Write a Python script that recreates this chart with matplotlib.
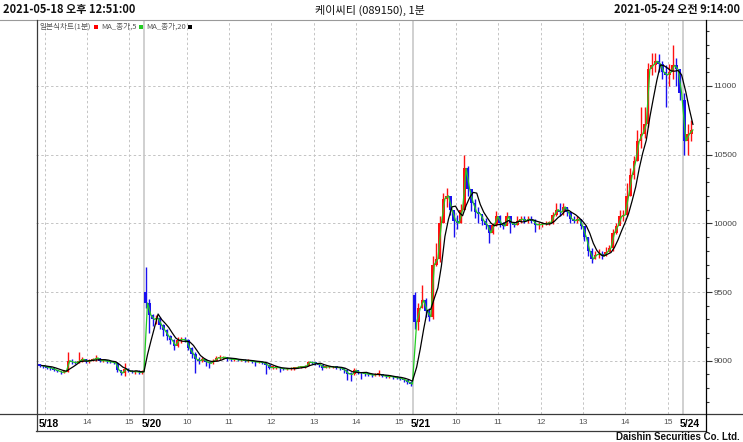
import numpy as np
import pandas as pd
import matplotlib
matplotlib.use("Agg")
import matplotlib.pyplot as plt
import matplotlib.transforms as mtransforms
from matplotlib.lines import Line2D
from matplotlib.patches import Rectangle

# ---------------- data (5-minute bars) ----------------
day_labels = ["5/18", "5/20", "5/21", "5/24"]
first_bar_time = ["12:51", "09:00", "09:00", "09:00"]
session_close = "15:20"
day_open = [8970, 9500, 9480, 10900]

close_0518 = [8965, 8960, 8950, 8945, 8935, 8925, 8915, 8920, 9000, 8990,
              8985, 9000, 9010, 8995, 9000, 9010, 9020, 9000, 9000, 8995,
              8990, 8985, 8930, 8910, 8940, 8925, 8920, 8920, 8915, 8920]
high_0518 = [8975, 8970, 8965, 8955, 8945, 8935, 8925, 8930, 9060, 9010,
             9000, 9065, 9030, 9015, 9010, 9020, 9040, 9020, 9010, 9005,
             9000, 8995, 8990, 8930, 8980, 8945, 8935, 8935, 8930, 8930]
low_0518 = [8955, 8950, 8940, 8935, 8925, 8915, 8905, 8910, 8915, 8975,
            8975, 8980, 8990, 8985, 8985, 8995, 9000, 8990, 8990, 8985,
            8980, 8975, 8920, 8895, 8885, 8915, 8910, 8905, 8900, 8905]

close_0520 = [9420, 9330, 9300, 9310, 9260, 9220, 9180, 9150, 9110, 9150,
              9155, 9150, 9090, 9050, 9010, 9000, 9010, 8990, 8980, 9000,
              9020, 9020, 9025, 9015, 9010, 9010, 9005, 9005, 9000, 9000,
              8995, 8990, 8990, 8985, 8970, 8950, 8950, 8950, 8945, 8940,
              8940, 8945, 8945, 8955, 8955, 8960, 8990, 8985, 8980, 8970,
              8950, 8955, 8955, 8955, 8950, 8945, 8930, 8905, 8900, 8930,
              8915, 8910, 8905, 8900, 8895, 8900, 8900, 8890, 8885, 8885,
              8880, 8875, 8870, 8860, 8845, 8830]
high_0520 = [9680, 9450, 9340, 9330, 9320, 9270, 9230, 9190, 9160, 9170,
             9175, 9175, 9160, 9100, 9060, 9030, 9030, 9010, 9000, 9010,
             9035, 9040, 9035, 9030, 9020, 9020, 9015, 9015, 9010, 9010,
             9005, 9000, 9000, 8995, 8990, 8975, 8960, 8960, 8955, 8950,
             8950, 8955, 8955, 8965, 8965, 8970, 9000, 8995, 8990, 8985,
             8970, 8965, 8965, 8965, 8960, 8955, 8950, 8935, 8915, 8945,
             8935, 8920, 8915, 8910, 8905, 8910, 8930, 8905, 8895, 8895,
             8890, 8885, 8880, 8875, 8860, 8850]
low_0520 = [9380, 9200, 9250, 9270, 9230, 9180, 9150, 9120, 9080, 9100,
            9130, 9135, 9080, 9020, 8910, 8975, 8990, 8965, 8950, 8975,
            8995, 9005, 9010, 9000, 9000, 9000, 8995, 8995, 8990, 8990,
            8985, 8960, 8980, 8975, 8900, 8940, 8940, 8940, 8920, 8930,
            8930, 8935, 8935, 8945, 8945, 8950, 8960, 8975, 8970, 8955,
            8935, 8945, 8945, 8945, 8940, 8935, 8910, 8860, 8850, 8895,
            8900, 8870, 8890, 8885, 8880, 8890, 8890, 8880, 8875, 8875,
            8870, 8865, 8860, 8845, 8830, 8815]

close_0521 = [9280, 9380, 9440, 9360, 9320, 9700, 9740, 10000, 10180, 10200,
              10100, 10020, 10000, 10100, 10400, 10250, 10150, 10080, 10070, 10020,
              9990, 9930, 9990, 10050, 10000, 9980, 10050, 10000, 9990, 10020,
              10030, 10020, 10030, 10020, 9990, 9990, 9995, 10000, 10005, 10060,
              10100, 10080, 10120, 10080, 10030, 10020, 10030, 9980, 9900, 9800,
              9740, 9770, 9780, 9760, 9790, 9820, 9930, 9980, 10050, 10060,
              10200, 10350, 10450, 10600, 10650, 10720, 11120, 11150, 11180, 11160,
              11100, 11080, 11100, 11150, 11120, 10950]
high_0521 = [9500, 9420, 9550, 9460, 9380, 9760, 9860, 10050, 10220, 10260,
             10200, 10080, 10060, 10140, 10500, 10420, 10230, 10180, 10120, 10060,
             10040, 9990, 10000, 10090, 10060, 10010, 10080, 10050, 10010, 10050,
             10050, 10050, 10050, 10050, 10030, 10010, 10010, 10020, 10020, 10080,
             10150, 10150, 10150, 10120, 10060, 10050, 10050, 10030, 9980, 9900,
             9820, 9800, 9810, 9800, 9830, 9840, 9960, 10000, 10100, 10100,
             10290, 10400, 10490, 10680, 10850, 10850, 11170, 11240, 11240, 11230,
             11180, 11150, 11160, 11300, 11200, 11100]
low_0521 = [9230, 9220, 9380, 9320, 9290, 9300, 9690, 9720, 10000, 10120,
            10060, 9900, 9960, 10000, 10100, 10200, 10090, 10040, 10000, 9990,
            9960, 9860, 9920, 9980, 9970, 9960, 9990, 9930, 9970, 9990,
            10000, 10000, 10000, 10000, 9940, 9960, 9975, 9985, 9990, 9995,
            10050, 10050, 10060, 10050, 10000, 10000, 10000, 9960, 9870, 9760,
            9710, 9740, 9750, 9740, 9760, 9790, 9800, 9920, 10000, 10020,
            10050, 10200, 10320, 10450, 10550, 10620, 10700, 11080, 11100, 11100,
            11050, 10850, 11000, 11050, 11000, 10900]

close_0524 = [10600, 10650, 10680]
high_0524 = [10950, 10720, 10750]
low_0524 = [10500, 10500, 10600]

closes = [close_0518, close_0520, close_0521, close_0524]
highs = [high_0518, high_0520, high_0521, high_0524]
lows = [low_0518, low_0520, low_0521, low_0524]

ma_windows_min = [5, 20]
ma_colors = ["#22cc22", "#000000"]
BAR_MIN = 5

y_ticks = [9000, 9500, 10000, 10500, 11000]
hours = [9, 10, 11, 12, 13, 14, 15]

# ---------------- build the time axis (trading minutes) ----------------
def to_min(s):
    h, m = s.split(":")
    return int(h) * 60 + int(m)

rows = []
offset = 0
for d in range(len(day_labels)):
    start = to_min(first_bar_time[d])
    c = closes[d]
    o = [day_open[d]] + c[:-1]
    for i in range(len(c)):
        rows.append(dict(t=offset + i * BAR_MIN, o=o[i], h=highs[d][i],
                         l=lows[d][i], c=c[i]))
    offset += to_min(session_close) - start + 1
df = pd.DataFrame(rows)

# position of each day's 09:00 on the trading-minute axis
day_nine = [-(to_min(first_bar_time[0]) - to_min("09:00"))]
off = 0
for d in range(len(day_labels)):
    if d > 0:
        day_nine.append(off)
    off += to_min(session_close) - to_min(first_bar_time[d]) + 1

# ---------------- figure ----------------
W, H = 743, 442
fig = plt.figure(figsize=(W / 100, H / 100), dpi=100)
fig.patch.set_facecolor("white")

def fx(x):
    return x / W

def fy(y):
    return 1 - y / H

ax_l, ax_r, ax_t, ax_b = 36, 706, 20, 414
ax = fig.add_axes([fx(ax_l), fy(ax_b), (ax_r - ax_l) / W, (ax_b - ax_t) / H])
ax.set_xlim(-3.3, 945)
ax.set_ylim(8612, 11480)
for s in ax.spines.values():
    s.set_visible(False)

# grid lines
grid_col = "#c4c4c4"
for yv in y_ticks:
    ax.axhline(yv, color=grid_col, lw=0.7, ls=(0, (2.5, 2.5)), zorder=0)
for d in range(len(day_labels)):
    base = day_nine[d]
    for hh in hours:
        tt = base + (hh - 9) * 60
        if tt <= 0 and d == 0:
            continue
        if d == 3 and hh > 9:
            continue
        if hh == 9:
            if d > 0:
                ax.axvline(tt, color="#c8c8c8", lw=1.2, zorder=0)
        else:
            ax.axvline(tt, color=grid_col, lw=0.7, ls=(0, (2.5, 2.5)), zorder=0)

# candles
up = df["c"] >= df["o"]
xc = df["t"] + 2.0
for mask, col in [(up, "#ff1010"), (~up, "#1a10f0")]:
    sub = df[mask]
    ax.vlines(xc[mask], sub["l"], sub["h"], color=col, lw=1.0, zorder=2)
    bottom = np.minimum(sub["o"], sub["c"])
    height = np.maximum(np.abs(sub["c"] - sub["o"]), 8)
    ax.bar(xc[mask], height, bottom=bottom, width=4.0, color=col,
           edgecolor="none", zorder=2)

# moving averages (window in minutes -> number of 5-minute bars)
xe = df["t"] + 4.5
for w, col in zip(ma_windows_min, ma_colors):
    ma = df["c"].rolling(max(1, w // BAR_MIN), min_periods=1).mean()
    ax.plot(xe, ma, color=col, lw=0.9, zorder=3)

# right y axis
ax.yaxis.tick_right()
ax.set_yticks(y_ticks)
ax.set_yticklabels([str(v) for v in y_ticks])
ax.set_yticks(np.arange(8700, 11500, 100), minor=True)
ax.tick_params(axis="y", which="major", length=4, width=0.8, pad=1.5,
               labelsize=6, labelcolor="#444444", color="#333333")
ax.tick_params(axis="y", which="minor", length=2.5, width=0.8, color="#333333")
for lab in ax.get_yticklabels():
    lab.set_fontfamily("Liberation Sans")
ax.set_xticks([])

# x labels
trans = mtransforms.blended_transform_factory(ax.transData, fig.transFigure)
narrow = ["Liberation Sans Narrow", "Liberation Sans"]
for d in range(len(day_labels)):
    base = day_nine[d]
    if d == 0:
        ax.text(0, fy(424), day_labels[d], transform=trans, ha="left", va="center",
                fontsize=7.5, fontweight="bold", family=narrow, color="#000000")
    else:
        t0 = mtransforms.offset_copy(trans, fig=fig, x=-3, y=0, units="dots")
        ax.text(base, fy(424), day_labels[d], transform=t0, ha="left", va="center",
                fontsize=7.5, fontweight="bold", family=narrow, color="#000000")
    for hh in hours[1:]:
        tt = base + (hh - 9) * 60
        if d == 0 and hh <= 13:
            continue
        if d == 3:
            continue
        ax.text(tt, fy(422.5), str(hh), transform=trans, ha="center", va="center",
                fontsize=6, family="Liberation Sans", color="#555555")

# frame lines
line_col = "#3a3a3a"
fig.add_artist(Line2D([0, 1], [fy(20), fy(20)], transform=fig.transFigure, color="#9a9a9a", lw=0.8))
fig.add_artist(Line2D([0, 1], [fy(414), fy(414)], transform=fig.transFigure, color=line_col, lw=0.9))
fig.add_artist(Line2D([fx(36), fx(706)], [fy(430.5), fy(430.5)], transform=fig.transFigure, color=line_col, lw=0.9))
fig.add_artist(Line2D([fx(36.5), fx(36.5)], [fy(20), fy(430.5)], transform=fig.transFigure, color=line_col, lw=0.9))
fig.add_artist(Line2D([fx(706), fx(706)], [fy(20), fy(430.5)], transform=fig.transFigure, color="#000000", lw=0.9))

# header
hdr = ["Liberation Sans Narrow", "Noto Sans CJK KR"]
fig.text(fx(3), fy(10), "2021-05-18 오후 12:51:00", ha="left", va="center",
         fontsize=8, family=hdr, fontweight="bold", color="#111111")
fig.text(fx(740), fy(10), "2021-05-24 오전 9:14:00", ha="right", va="center",
         fontsize=8, family=hdr, fontweight="bold", color="#111111")
fig.text(fx(370), fy(10), "케이씨티 (089150), 1분", ha="center", va="center",
         fontsize=8, family=["Noto Sans CJK KR", "DejaVu Sans"], color="#111111")

fig.text(fx(740), fy(437), "Daishin Securities Co. Ltd.", ha="right", va="center",
         fontsize=7, family=narrow, fontweight="bold", color="#111111")

# legend strip
fig.canvas.draw()
renderer = fig.canvas.get_renderer()
legend_items = [("일본식차트(1분)", "#ff0000"), ("MA_종가,5", "#22cc22"), ("MA_종가,20", "#000000")]
xpos = 40
for txt, col in legend_items:
    t = fig.text(fx(xpos), fy(27), txt, ha="left", va="center", fontsize=5.5,
                 family=["Noto Sans CJK KR", "DejaVu Sans"], color="#555555")
    bb = t.get_window_extent(renderer)
    xpos = bb.x1 + 2.5
    fig.add_artist(Rectangle((fx(xpos), fy(29)), 4 / W, 4 / H, transform=fig.transFigure,
                             facecolor=col, edgecolor="none"))
    xpos += 7

fig.savefig("out.png", dpi=100, facecolor="white")
